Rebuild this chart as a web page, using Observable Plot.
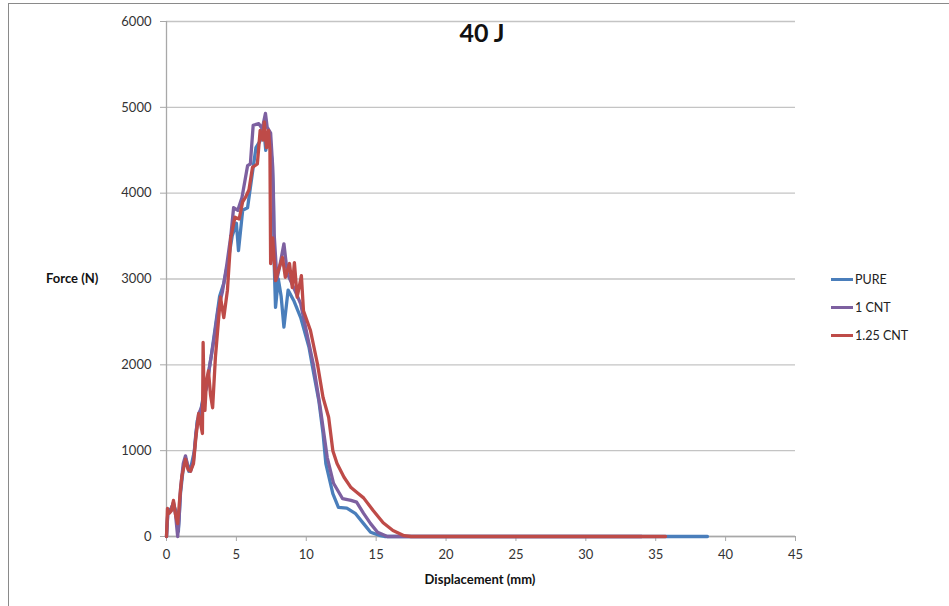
<!DOCTYPE html>
<html>
<head>
<meta charset="utf-8">
<script src="https://cdn.jsdelivr.net/npm/d3@7"></script>
<script src="https://cdn.jsdelivr.net/npm/@observablehq/plot@0.6"></script>
<style>
  html, body { margin: 0; padding: 0; background: #fff; }
  #wrap { position: relative; width: 949px; height: 606px; overflow: hidden; font-family: Lato, "Open Sans", sans-serif; }
  #frame { position: absolute; left: 8px; top: 3px; width: 1200px; height: 900px; border-left: 1.5px solid #8a8a8a; border-top: 1.5px solid #8a8a8a; }
  #chart { position: absolute; left: 0; top: 0; }
  .title { position: absolute; left: 432px; width: 100px; top: 17px; text-align: center; font-weight: 700; font-size: 25px; color: #111; }
  .ylab { position: absolute; left: 46px; top: 270px; font-weight: 700; font-size: 13px; color: #111; }
  .xlab { position: absolute; left: 330px; width: 300px; top: 571px; text-align: center; font-weight: 700; font-size: 13px; color: #111; }
  #legend { position: absolute; left: 831px; top: 265px; font-size: 12.5px; color: #222; }
  .item { display: flex; align-items: center; height: 28px; }
  .sw { width: 22px; height: 3px; margin-right: 2px; }
</style>
</head>
<body>
<div id="wrap">
  <div id="frame"></div>
  <div id="chart"></div>
  <div class="title">40 J</div>
  <div class="ylab">Force (N)</div>
  <div class="xlab">Displacement (mm)</div>
  <div id="legend"></div>
</div>
<script>
const seriesNames = ["PURE", "1 CNT", "1.25 CNT"];
const seriesColors = ["#4a7ebb", "#7d60a0", "#be4b48"];
const xTicks = [0, 5, 10, 15, 20, 25, 30, 35, 40, 45];
const yTicks = [0, 1000, 2000, 3000, 4000, 5000, 6000];

const pureX = [0,0.1,0.3,0.5,0.7,0.85,1.0,1.2,1.4,1.6,1.8,2.0,2.2,2.4,2.6,2.8,3.0,3.2,3.5,3.8,4.1,4.4,4.7,5.0,5.15,5.45,5.8,6.15,6.4,6.7,6.95,7.1,7.3,7.55,7.65,7.7,7.8,8.0,8.2,8.4,8.7,9.1,9.6,10.2,10.5,10.9,11.2,11.4,11.9,12.3,12.9,13.5,14.1,14.6,15.3,15.6,38.7];
const pureY = [0,300,320,380,280,60,500,800,900,760,850,1000,1350,1420,1600,1700,1900,2100,2450,2800,2950,3200,3500,3650,3330,3800,3830,4240,4530,4610,4770,4500,4700,4380,4000,3200,2670,3000,2800,2440,2870,2750,2550,2200,1930,1580,1200,850,500,340,330,270,150,50,10,0,0];

const cnt1X = [0,0.1,0.3,0.5,0.65,0.8,0.9,1.0,1.2,1.36,1.55,1.72,1.93,2.1,2.3,2.5,2.7,2.9,3.1,3.4,3.7,4.0,4.3,4.6,4.8,5.1,5.4,5.8,6.0,6.2,6.6,6.85,7.08,7.2,7.45,7.6,7.7,7.9,8.1,8.4,8.65,9.1,9.6,10.1,10.5,11.0,11.5,11.95,12.6,13.2,13.6,14.1,14.6,15.1,15.8,34];
const cnt1Y = [0,280,300,400,250,0,200,550,850,940,800,760,880,1200,1430,1500,1650,1750,2000,2300,2650,2850,3150,3500,3830,3800,3950,4320,4340,4790,4810,4750,4930,4770,4700,4300,3530,3000,3150,3410,3060,2900,2710,2320,2010,1500,920,620,440,420,400,270,150,50,0,0];

const cnt125X = [0,0.07,0.2,0.35,0.5,0.65,0.8,0.95,1.1,1.36,1.55,1.72,1.93,2.1,2.3,2.57,2.62,2.68,2.75,2.85,3.0,3.15,3.3,3.5,3.7,3.86,4.1,4.36,4.6,4.9,5.2,5.45,5.65,5.9,6.15,6.5,6.7,6.9,7.0,7.15,7.3,7.4,7.45,7.6,7.8,8.0,8.3,8.5,8.8,9.0,9.15,9.35,9.65,9.8,10.3,10.8,11.2,11.6,11.9,12.2,12.7,13.2,13.65,14.1,14.8,15.5,16.2,17.0,17.5,35.7];
const cnt125Y = [0,326,270,300,420,250,150,450,700,900,780,760,850,1150,1430,1200,2260,1700,1470,1800,1930,1650,1500,2090,2480,2790,2550,2870,3480,3720,3700,3900,3950,4040,4300,4340,4730,4620,4830,4530,4730,4500,3180,3480,2980,3100,3250,3020,3180,2900,3190,2790,3040,2630,2400,2010,1620,1390,1000,850,690,570,510,450,300,160,70,10,0,0];

const seriesX = [pureX, cnt1X, cnt125X];
const seriesY = [pureY, cnt1Y, cnt125Y];
const data = [];
seriesNames.forEach((name, i) => {
  seriesX[i].forEach((x, j) => data.push({series: name, x, y: seriesY[i][j]}));
});

const chart = Plot.plot({
  width: 949,
  height: 606,
  marginLeft: 166,
  marginRight: 154,
  marginTop: 21,
  marginBottom: 70,
  style: { fontFamily: "Lato, 'Open Sans', sans-serif", fontSize: "13px", color: "#333", background: "transparent" },
  x: { domain: [0, 45] },
  y: { domain: [0, 6000] },
  color: { domain: seriesNames, range: seriesColors },
  marks: [
    Plot.gridY(yTicks, { stroke: "#c4c4c4", strokeOpacity: 1, strokeWidth: 1.3 }),
    Plot.ruleX([0], { stroke: "#a8a8a8", strokeWidth: 1.3 }),
    Plot.ruleY([0], { stroke: "#a8a8a8", strokeWidth: 1.3 }),
    Plot.axisY(yTicks, { tickSize: 6, tickPadding: 9, tickFormat: d3.format("d"), label: null, stroke: "#a8a8a8" }),
    Plot.axisX(xTicks, { tickSize: 5, tickPadding: 8, tickFormat: d3.format("d"), label: null, stroke: "#a8a8a8" }),
    Plot.line(data, { x: "x", y: "y", z: "series", stroke: "series", strokeWidth: 3.3, strokeLinejoin: "round", curve: "linear" })
  ]
});
document.getElementById("chart").appendChild(chart);

const legend = document.getElementById("legend");
seriesNames.forEach((name, i) => {
  const it = document.createElement("div");
  it.className = "item";
  const sw = document.createElement("div");
  sw.className = "sw";
  sw.style.background = seriesColors[i];
  const t = document.createElement("span");
  t.textContent = name;
  it.appendChild(sw);
  it.appendChild(t);
  legend.appendChild(it);
});
</script>
</body>
</html>
